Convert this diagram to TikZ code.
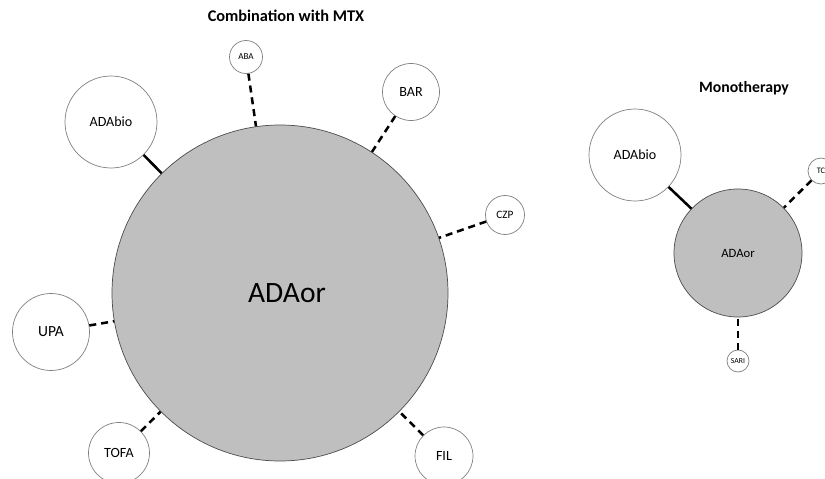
\documentclass[tikz,border=0pt]{standalone}
\usepackage{fontspec}
\setmainfont{Carlito}
\definecolor{hubgray}{RGB}{191,191,191}
\definecolor{rimgray}{RGB}{128,128,128}
\usetikzlibrary{positioning}

\begin{document}
\begin{tikzpicture}[x=0.025cm,y=-0.025cm,
  drug/.style={draw=rimgray,circle,fill=white,line width=0.5pt,inner sep=0pt},
  hub/.style={draw=black!70,circle,fill=hubgray,line width=0.5pt,inner sep=0pt},
  solidlink/.style={line width=1.8pt},
  dashlink/.style={line width=1.8pt,dash pattern=on 5pt off 3.5pt}]
  \useasboundingbox (0,0) rectangle (825,479);
  % combination with MTX
  \node[font=\bfseries\fontsize{11.6}{14}\selectfont] (tcomb) at (286,16) {Combination with MTX};
  \node[hub,minimum size=336*0.025cm] (ora) at (280,293) {};
  \node[font=\fontsize{21}{24}\selectfont] (oralbl) at (287,293) {ADAor};
  \node[drug,minimum size=92*0.025cm,font=\fontsize{10}{12}\selectfont]  (bioa) at (111,122) {ADAbio};
  \node[drug,minimum size=33*0.025cm,font=\fontsize{6.5}{8}\selectfont]  (aba)  at (246,57)  {ABA};
  \node[drug,minimum size=57*0.025cm,font=\fontsize{10}{12}\selectfont]  (bar)  at (411,92)  {BAR};
  \node[drug,minimum size=39*0.025cm,font=\fontsize{8}{10}\selectfont]   (czp)  at (505,215) {CZP};
  \node[drug,minimum size=77*0.025cm,font=\fontsize{11}{13}\selectfont]  (upa)  at (51,332)  {UPA};
  \node[drug,minimum size=61*0.025cm,font=\fontsize{10}{12}\selectfont]  (tofa) at (119,453) {TOFA};
  \node[drug,minimum size=58*0.025cm,font=\fontsize{10}{12}\selectfont]  (fil)  at (444,456) {FIL};
  \draw[solidlink] (bioa) -- (ora);
  \foreach \t in {aba,bar,czp,upa,tofa,fil}
    \draw[dashlink] (\t) -- (ora);
  % monotherapy
  \node[font=\bfseries\fontsize{11.2}{14}\selectfont] (tmono) at (744,88) {Monotherapy};
  \node[hub,minimum size=128*0.025cm,font=\fontsize{9}{11}\selectfont] (orb) at (738,253) {ADAor};
  \node[drug,minimum size=92*0.025cm,font=\fontsize{10}{12}\selectfont] (biob) at (635,155) {ADAbio};
  \node[drug,minimum size=26*0.025cm,font=\fontsize{6}{7}\selectfont]   (tc)   at (821,171) {TC};
  \node[drug,minimum size=22*0.025cm,font=\fontsize{5.5}{7}\selectfont] (sari) at (738,361) {SARI};
  \draw[solidlink] (biob) -- (orb);
  \foreach \t in {tc,sari}
    \draw[dashlink] (\t) -- (orb);
\end{tikzpicture}
\end{document}
